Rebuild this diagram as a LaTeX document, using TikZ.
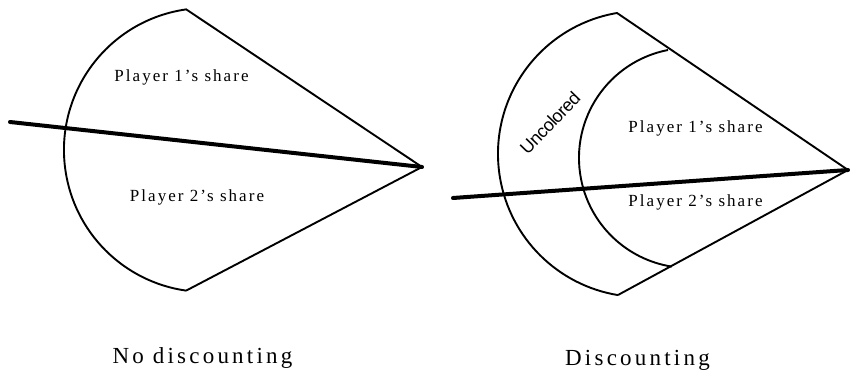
\documentclass[tikz,border=0pt]{standalone}
\usepackage{fontspec}
\setmainfont{Liberation Serif}
\newfontfamily\labfont[LetterSpace=12]{Liberation Serif}
\newfontfamily\capfont[LetterSpace=14]{Liberation Serif}
\newfontfamily\uncfont[LetterSpace=-3]{Liberation Sans}
\begin{document}
\begin{tikzpicture}[x=1pt,y=1pt,
  edge/.style={line width=1.9pt, line join=miter},
  bar/.style={line width=4pt, line cap=round},
  lab/.style={inner sep=0, anchor=base, font=\labfont\fontsize{17}{17}\selectfont},
  captionlab/.style={inner sep=0, anchor=base, font=\capfont\fontsize{23}{23}\selectfont},
  unc/.style={inner sep=0, rotate=46, font=\uncfont\fontsize{18}{18}\selectfont}]
\useasboundingbox (0,0) rectangle (851,371);
% left figure
\coordinate (LT) at (186.2,361.6);
\coordinate (LA) at (422,204);
\coordinate (LB) at (186.2,80.4);
\coordinate (LS) at (10,249);
\draw[edge] (LB) -- (LA) -- (LT) arc[start angle=98, end angle=262, radius=142];
\draw[bar] (LS) -- (LA);
\node[lab] (l1) at (181.5,289) {Player 1’s share};
\node[lab] (l2) at (197,169) {Player 2’s share};
\node[captionlab] (lc) at (202.5,7) {No discounting};
% right figure
\coordinate (RT) at (617,358);
\coordinate (RA) at (848,201);
\coordinate (RB) at (618,76);
\coordinate (RS) at (453,173);
\coordinate (RI) at (668,321);
\draw[edge] (RB) -- (RA) -- (RT) arc[start angle=99.66, end angle=260.7, radius=143];
\draw[edge] (RI) arc[start angle=101, end angle=261, radius=110];
\draw[bar] (RS) -- (RA);
\node[lab] (r1) at (695.5,238) {Player 1’s share};
\node[lab] (r2) at (695.5,164) {Player 2’s share};
\node[unc] (ru) at (550,248) {Uncolored};
\node[captionlab] (rc) at (637.5,5) {Discounting};
\end{tikzpicture}
\end{document}
